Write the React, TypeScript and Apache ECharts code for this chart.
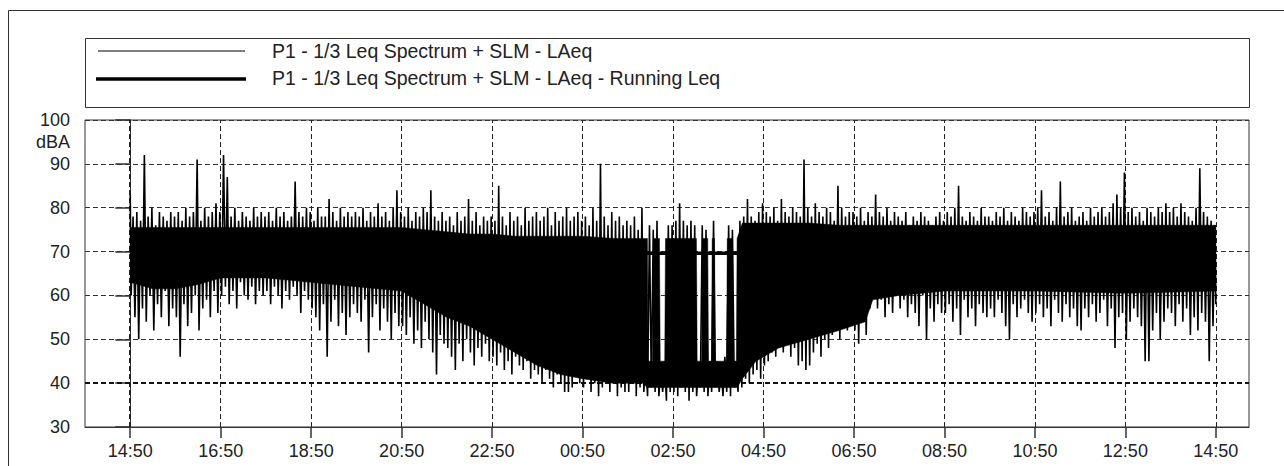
import React, { useEffect, useRef } from "react";
import * as echarts from "echarts";

// ---- axis ticks ----
const TICK_MINUTES = [0, 120, 240, 360, 480, 600, 720, 840, 960, 1080, 1200, 1320, 1440];
const TICK_LABELS = ["14:50", "16:50", "18:50", "20:50", "22:50", "00:50", "02:50", "04:50", "06:50", "08:50", "10:50", "12:50", "14:50"];

// ---- LAeq envelope, one reading pair per 5 minutes from 14:50 (max, min) ----
const STEP = 5;
const laeqMax = [
  83, 78, 79, 77, 92, 78, 80, 76, 79, 78, 77, 79,
  78, 79, 77, 80, 78, 79, 91, 77, 80, 78, 79, 81,
  79, 92, 87, 78, 80, 77, 79, 78, 77, 80, 78, 79,
  78, 79, 77, 80, 78, 79, 77, 78, 86, 79, 78, 80,
  79, 77, 80, 78, 78, 82, 79, 77, 80, 78, 79, 78,
  79, 78, 80, 77, 79, 78, 81, 78, 79, 77, 80, 84,
  79, 78, 80, 77, 79, 78, 80, 79, 84, 78, 77, 79,
  77, 78, 76, 79, 77, 78, 82, 77, 79, 76, 78, 77,
  78, 77, 85, 78, 76, 79, 77, 78, 76, 80, 77, 78,
  79, 77, 78, 80, 76, 79, 77, 78, 80, 77, 78, 79,
  77, 78, 76, 80, 77, 90, 78, 76, 79, 77, 78, 76,
  77, 76, 78, 75, 80, 45, 76, 75, 77, 44, 45, 76,
  76, 77, 81, 77, 76, 77, 76, 44, 76, 75, 45, 77,
  45, 44, 46, 76, 75, 45, 77, 78, 82, 78, 77, 79,
  81, 79, 78, 80, 77, 82, 79, 78, 80, 79, 78, 91,
  80, 78, 81, 79, 78, 80, 79, 77, 85, 80, 78, 79,
  79, 78, 80, 77, 79, 78, 83, 79, 78, 80, 77, 79,
  78, 77, 79, 76, 78, 77, 79, 78, 77, 76, 78, 79,
  77, 79, 78, 80, 85, 78, 77, 79, 78, 77, 80, 78,
  78, 77, 79, 78, 80, 77, 79, 78, 77, 80, 79, 78,
  79, 80, 84, 78, 79, 77, 80, 86, 78, 79, 80, 77,
  78, 79, 77, 80, 78, 79, 80, 78, 79, 81, 83, 80,
  88, 79, 80, 78, 79, 77, 80, 79, 78, 80, 79, 81,
  79, 80, 78, 81, 79, 78, 77, 80, 89, 79, 78, 77, 76,
];
const laeqMin = [
  60, 55, 50, 57, 54, 60, 52, 58, 55, 61, 53, 57,
  55, 46, 58, 53, 56, 60, 52, 57, 59, 55, 61, 56,
  60, 62, 58, 61, 57, 63, 60, 59, 62, 58, 61, 60,
  61, 58, 62, 60, 57, 61, 59, 62, 60, 56, 61, 59,
  57, 55, 52, 58, 46, 54, 59, 53, 56, 51, 55, 58,
  56, 54, 59, 47, 55, 58, 52, 57, 54, 50, 56, 53,
  53, 51, 55, 49, 52, 48, 54, 50, 47, 42, 51, 49,
  48, 46, 43, 49, 45, 50, 47, 44, 48, 46, 49, 45,
  46, 44, 47, 43, 45, 42, 46, 44, 43, 45, 41, 43,
  42, 40, 43, 41, 39, 42, 40, 38, 38, 39, 42, 40,
  39, 41, 38, 40, 37, 39, 41, 38, 40, 37, 39, 38,
  38, 40, 37, 39, 38, 37, 39, 38, 37, 38, 36, 38,
  38, 37, 39, 38, 36, 38, 37, 39, 38, 37, 38, 39,
  38, 37, 38, 37, 39, 38, 39, 41, 40, 42, 43, 41,
  44, 45, 47, 46, 48, 47, 49, 46, 48, 44, 45, 43,
  44, 47, 49, 46, 50, 48, 51, 53, 50, 54, 52, 55,
  52, 49, 54, 51, 57, 60, 57, 59, 55, 58, 56, 60,
  57, 59, 55, 58, 56, 53, 60, 50, 57, 54, 58, 56,
  56, 58, 54, 57, 51, 59, 55, 57, 53, 58, 56, 55,
  57, 55, 59, 56, 53, 50, 58, 55, 57, 59, 56, 54,
  56, 58, 55, 57, 53, 59, 56, 54, 58, 55, 57, 53,
  52, 57, 55, 58, 54, 56, 59, 53, 57, 48, 55, 56,
  50, 54, 57, 55, 53, 45, 45, 52, 56, 50, 54, 57,
  56, 53, 58, 54, 57, 51, 55, 52, 56, 54, 45, 53, 58,
];

// ---- dense core of the LAeq trace (minutes from 14:50, upper, lower) ----
const coreMin = [
  0, 30, 60, 90, 120, 180, 240, 300, 360, 390, 420, 450, 480, 510, 540, 570, 600, 640, 680,
  686, 687, 693, 694, 702, 703, 709, 710, 751, 752, 758, 759, 766, 767, 771, 772, 775, 776, 791, 792, 799, 800, 804, 805,
  812, 830, 860, 900, 940, 975, 985, 1020, 1080, 1200, 1320, 1440,
];
const coreTop = [
  75.5, 75.5, 75.5, 75.5, 75.5, 75.5, 75.5, 75.5, 75.5, 75, 74.5, 74, 74, 73.5, 73.5, 73.5, 73.5, 73, 73,
  73, 45, 45, 73, 73, 45, 45, 73, 73, 45, 45, 73, 73, 45, 45, 73, 73, 45, 45, 73, 73, 45, 45, 73,
  76.5, 76.5, 76.5, 76.5, 76, 76, 76, 76, 76, 76, 76, 76,
];
const coreBot = [
  63, 61.5, 61.5, 62.5, 64, 64, 63, 62, 61, 58, 55, 53, 50, 47, 44, 42, 41, 40, 40,
  39, 39, 39, 39, 39, 39, 39, 39, 39, 39, 39, 39, 39, 39, 39, 39, 39, 39, 39, 39, 39, 39, 39, 39,
  41, 45, 48, 50, 52, 54, 59, 60, 61, 61, 60.5, 61,
];

// ---- running Leq, hourly ----
const runMin = [0, 60, 120, 180, 240, 300, 360, 420, 480, 540, 600, 660, 720, 780, 840, 900, 960, 1020, 1080, 1140, 1200, 1260, 1320, 1380, 1440];
const runLeq = [70.5, 70.3, 70.2, 70.1, 70.0, 70.0, 69.9, 69.9, 69.8, 69.7, 69.7, 69.6, 69.6, 69.6, 69.6, 69.7, 69.8, 69.8, 69.9, 69.9, 69.9, 70.0, 70.0, 70.0, 70.0];

const SERIES_1 = "P1 - 1/3 Leq Spectrum + SLM - LAeq";
const SERIES_2 = "P1 - 1/3 Leq Spectrum + SLM - LAeq - Running Leq";
const FONT = '"Liberation Sans", Arial, Helvetica, sans-serif';

export default function App() {
  const ref = useRef<HTMLDivElement>(null);

  useEffect(() => {
    document.body.style.margin = "0";
    const chart = echarts.init(ref.current as HTMLDivElement, null, { renderer: "svg" });

    const laeqData: number[][] = [];
    laeqMax.forEach((h, i) => {
      const m = i * STEP;
      laeqData.push([Math.max(0, m - 1.25), h]);
      laeqData.push([Math.min(1440, m + 1.25), laeqMin[i]]);
    });

    const dash = [5, 3];

    const option: any = {
      animation: false,
      grid: {
        left: 85,
        top: 120,
        right: 35,
        bottom: 39,
        show: true,
        borderColor: "#333",
        borderWidth: 1,
        containLabel: false,
      },
      xAxis: {
        type: "value",
        min: -60,
        max: 1484,
        axisLine: { show: true, lineStyle: { color: "#333", width: 1 } },
        axisTick: {
          show: true,
          customValues: TICK_MINUTES,
          length: 11,
          lineStyle: { color: "#333", width: 1.5 },
        },
        axisLabel: {
          customValues: TICK_MINUTES,
          formatter: (v: number) => TICK_LABELS[Math.round(v / 120)] ?? "",
          fontSize: 18,
          fontFamily: FONT,
          color: "#222",
          margin: 15,
        },
        splitLine: { show: false },
      },
      yAxis: {
        type: "value",
        min: 30,
        max: 100,
        interval: 10,
        axisLine: { show: true, lineStyle: { color: "#333" } },
        axisTick: { show: true, length: 15, lineStyle: { color: "#333", width: 1.5 } },
        axisLabel: { fontSize: 18, fontFamily: FONT, color: "#222", margin: 15 },
        splitLine: { show: true, lineStyle: { color: "#333", type: dash, width: 1 } },
      },
      graphic: [
        {
          type: "rect",
          shape: { x: 8.5, y: 10.5, width: 1300, height: 500 },
          style: { fill: "none", stroke: "#333", lineWidth: 1 },
          silent: true,
        },
        {
          type: "rect",
          shape: { x: 85.5, y: 38.5, width: 1164, height: 69 },
          style: { fill: "#fff", stroke: "#333", lineWidth: 1 },
          silent: true,
        },
        {
          type: "line",
          shape: { x1: 98, y1: 51, x2: 245, y2: 51 },
          style: { stroke: "#000", lineWidth: 1 },
          silent: true,
        },
        {
          type: "line",
          shape: { x1: 96, y1: 79, x2: 246, y2: 79 },
          style: { stroke: "#000", lineWidth: 3.5 },
          silent: true,
        },
        {
          type: "text",
          x: 272,
          y: 51,
          style: { text: SERIES_1, fontSize: 19.5, fontFamily: FONT, fill: "#222", textVerticalAlign: "middle" },
          silent: true,
        },
        {
          type: "text",
          x: 272,
          y: 78,
          style: { text: SERIES_2, fontSize: 19.5, fontFamily: FONT, fill: "#222", textVerticalAlign: "middle" },
          silent: true,
        },
        {
          type: "text",
          x: 70,
          y: 142,
          style: { text: "dBA", fontSize: 18, fontFamily: FONT, fill: "#222", textAlign: "right", textVerticalAlign: "middle" },
          silent: true,
        },
      ],
      series: [
        {
          name: "core",
          type: "custom",
          silent: true,
          clip: true,
          z: 2,
          data: [[0, 70]],
          renderItem: (params: any, api: any) => {
            if (params.dataIndex !== 0) return null;
            const upper = coreMin.map((m, i) => api.coord([m, coreTop[i]]));
            const lower = coreMin.map((m, i) => api.coord([m, coreBot[i]])).reverse();
            return {
              type: "polygon",
              shape: { points: upper.concat(lower) },
              style: { fill: "#000", stroke: "#000", lineWidth: 0.5 },
            };
          },
        },
        {
          name: SERIES_1,
          type: "line",
          symbol: "none",
          lineStyle: { color: "#000", width: 1.6 },
          data: laeqData,
          z: 3,
          markLine: {
            silent: true,
            symbol: ["none", "none"],
            label: { show: false },
            z: 1,
            data: [
              ...TICK_MINUTES.map((m, i) => ({
                xAxis: m,
                lineStyle: { color: "#222", type: dash, width: i === 0 ? 2 : 1 },
              })),
              { yAxis: 40, lineStyle: { color: "#111", type: dash, width: 2 } },
            ],
          },
        },
        {
          name: SERIES_2,
          type: "line",
          symbol: "none",
          lineStyle: { color: "#000", width: 3.5 },
          data: runMin.map((m, i) => [m, runLeq[i]]),
          z: 4,
        },
      ],
    };

    chart.setOption(option);
    return () => chart.dispose();
  }, []);

  return <div ref={ref} style={{ width: 1284, height: 466 }} />;
}
